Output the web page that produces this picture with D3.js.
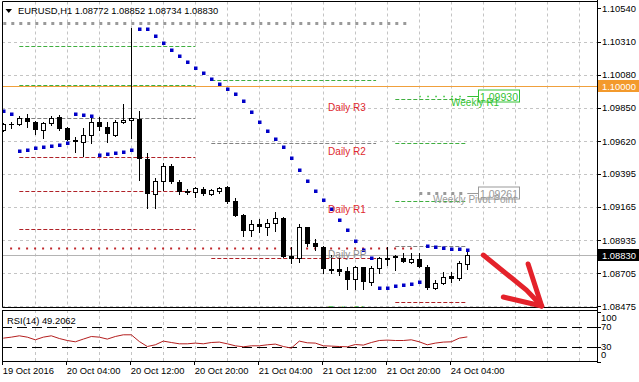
<!DOCTYPE html>
<html>
<head>
<meta charset="utf-8">
<script src="https://cdn.jsdelivr.net/npm/d3@7"></script>
<style>
    body { margin: 0; background: #fff; }
    svg { display: block; font-family: "Liberation Sans", Arial, sans-serif; }
</style>
</head>
<body>
<svg id="chart" width="639" height="382"></svg>
<script>
"use strict";

//EURUSD H1 bars, 19 Oct 20:00 .. 24 Oct 06:00 (index 0..58)
var opens = [1.09697, 1.09736, 1.09736, 1.09782, 1.09750, 1.09697, 1.09743, 1.09787, 1.09709, 1.09628,
    1.09612, 1.09662, 1.09750, 1.09720, 1.09662, 1.09750, 1.09764, 1.09773, 1.09496, 1.09251,
    1.09344, 1.09448, 1.09335, 1.09276, 1.09269, 1.09286, 1.09251, 1.09276, 1.09304, 1.09205,
    1.09108, 1.09004, 1.09046, 1.09027, 1.09055, 1.09085, 1.08824, 1.08808, 1.09023, 1.08912,
    1.08888, 1.08732, 1.08734, 1.08720, 1.08663, 1.08746, 1.08646, 1.08739, 1.08808, 1.08824,
    1.08808, 1.08784, 1.08803, 1.08750, 1.08600, 1.08635, 1.08685, 1.08669, 1.08772];
var highs = [1.09745, 1.09750, 1.09796, 1.09806, 1.09759, 1.09750, 1.09796, 1.09801, 1.09720, 1.09650,
    1.09713, 1.09789, 1.09789, 1.09754, 1.09768, 1.09875, 1.10404, 1.09829, 1.09535, 1.09366,
    1.09466, 1.09459, 1.09351, 1.09286, 1.09304, 1.09302, 1.09290, 1.09304, 1.09309, 1.09224,
    1.09115, 1.09073, 1.09078, 1.09078, 1.09131, 1.09092, 1.08888, 1.09046, 1.09027, 1.08940,
    1.08893, 1.08831, 1.08808, 1.08746, 1.08755, 1.08750, 1.08755, 1.08819, 1.08888, 1.08831,
    1.08843, 1.08847, 1.08843, 1.08762, 1.08658, 1.08715, 1.08715, 1.08791, 1.08852];
var lows = [1.09690, 1.09713, 1.09732, 1.09720, 1.09667, 1.09644, 1.09732, 1.09697, 1.09625, 1.09542,
    1.09519, 1.09605, 1.09697, 1.09612, 1.09659, 1.09743, 1.09639, 1.09351, 1.09159, 1.09159,
    1.09281, 1.09330, 1.09251, 1.09251, 1.09235, 1.09246, 1.09249, 1.09258, 1.09189, 1.09101,
    1.08962, 1.08962, 1.08992, 1.08969, 1.08999, 1.08817, 1.08778, 1.08784, 1.08893, 1.08866,
    1.08708, 1.08704, 1.08692, 1.08593, 1.08597, 1.08593, 1.08623, 1.08708, 1.08762, 1.08727,
    1.08782, 1.08773, 1.08748, 1.08597, 1.08597, 1.08632, 1.08646, 1.08658, 1.08734];
var closes = [1.09736, 1.09732, 1.09782, 1.09750, 1.09697, 1.09743, 1.09782, 1.09704, 1.09628, 1.09612,
    1.09662, 1.09750, 1.09720, 1.09667, 1.09754, 1.09768, 1.09782, 1.09496, 1.09251, 1.09344,
    1.09448, 1.09335, 1.09265, 1.09263, 1.09293, 1.09251, 1.09281, 1.09293, 1.09200, 1.09103,
    1.08999, 1.09046, 1.09027, 1.09055, 1.09085, 1.08819, 1.08805, 1.09023, 1.08907, 1.08888,
    1.08732, 1.08734, 1.08715, 1.08658, 1.08746, 1.08646, 1.08739, 1.08808, 1.08810, 1.08808,
    1.08784, 1.08801, 1.08750, 1.08600, 1.08635, 1.08681, 1.08663, 1.08773, 1.08830];

//Parabolic SAR
var sar = [1.09831, 1.09808, 1.09551, 1.09558, 1.09570, 1.09577, 1.09586, 1.09593, 1.09605, 1.09806,
    1.09799, 1.09792, 1.09522, 1.09531, 1.09538, 1.09544, 1.09558, 1.10397, 1.10397, 1.10350,
    1.10298, 1.10251, 1.10212, 1.10168, 1.10124, 1.10094, 1.10050, 1.10016, 1.09981, 1.09946,
    1.09900, 1.09822, 1.09751, 1.09690, 1.09635, 1.09581, 1.09501, 1.09420, 1.09344, 1.09274,
    1.09212, 1.09148, 1.09073, 1.09004, 1.08926, 1.08866, 1.08808, 1.08600, 1.08600, 1.08616,
    1.08625, 1.08632, 1.08644, 1.08893, 1.08888, 1.08879, 1.08872, 1.08872, 1.08866];

//RSI(14)
var rsi = [46.7, 48.7, 51.4, 48.7, 43.4, 48.7, 51.4, 46.0, 42.0, 39.4,
    44.8, 50.0, 48.7, 44.8, 50.0, 53.4, 53.4, 40.0, 30.0, 33.4,
    40.8, 38.0, 35.4, 35.4, 36.8, 35.4, 38.0, 38.8, 35.4, 31.4,
    29.4, 31.4, 31.4, 33.4, 34.8, 30.0, 26.8, 40.8, 37.4, 36.8,
    31.4, 30.8, 30.0, 29.4, 34.0, 32.8, 38.0, 42.0, 42.8, 42.0,
    42.0, 43.4, 39.4, 33.4, 36.8, 38.8, 39.4, 46.7, 49.2];

var priceTicks = [1.10540, 1.10310, 1.10080, 1.09850, 1.09620, 1.09395, 1.09165, 1.08935, 1.08705, 1.08475];
var rsiTicks = [100, 70, 30, 0];
var rsiLevels = [70, 30];
var timeTickIndex = [0, 8, 16, 24, 32, 40, 48, 56];
var timeTickLabels = ["19 Oct 2016", "20 Oct 04:00", "20 Oct 12:00", "20 Oct 20:00",
    "21 Oct 04:00", "21 Oct 12:00", "21 Oct 20:00", "24 Oct 04:00"];

//Daily pivot levels (three sessions)
var dayStart = [2, 26, 49];
var dayEnd = [24, 46.6, 58];
var dayResist = [[1.10279, 1.10009], [1.10043], [1.09912, 1.09607, 1.09205]];
var dayPivot = [1.09780, 1.09605, 1.08895];
var daySupport = [[1.09510, 1.09276, 1.09011], [1.08808], [1.08503]];
var dayLabels = ["Daily R3", "Daily R2", "Daily R1", "Daily PP", "Daily S1"];
var dayLabelPrices = [1.09912, 1.09607, 1.09205, 1.08895, 1.08503];
var dayLabelColors = ["#e0282e", "#e0282e", "#e0282e", "#8c8c8c", "#4cbb4c"];

//Weekly levels: previous week and current week
var prevWeekLevels = [1.10438, 1.08881];
var weekLevels = [1.09930, 1.09261];
var weekNames = ["Weekly R1", "Weekly Pivot Point"];

var lastPrice = 1.08830;
var roundLevel = 1.10000;
var arrowShaft = [[60.0, 1.08831], [65.4, 1.08588], [67.3, 1.08478]];
var arrowHead = [[62.5, 1.08540], [67.3, 1.08478], [65.6, 1.08769]];

//Layout
var left = 2, right = 597, mainTop = 1.5, mainBottom = 307, rsiTop = 310, rsiBottom = 361;
var axisFont = 9.4;

var svg = d3.select("#chart");

var x = d3.scaleLinear().domain([0, 74]).range([3.3, 595.3]);
var y = d3.scaleLinear().domain([1.08471, 1.10591]).range([mainBottom, 1]);
var yRsi = d3.scaleLinear().domain([0, 100]).range([361.5, 311.5]);

function px(v) { return Math.round(v) + 0.5; }

svg.append("clipPath").attr("id", "mainClip")
    .append("rect").attr("x", left).attr("y", mainTop).attr("width", right - left).attr("height", mainBottom - mainTop);

var main = svg.append("g").attr("clip-path", "url(#mainClip)");

//Grid
var gridIdx = d3.range(4, 73, 4);
main.selectAll(".vgrid").data(gridIdx).enter().append("line")
    .attr("x1", function (d) { return px(x(d)); }).attr("x2", function (d) { return px(x(d)); })
    .attr("y1", mainTop).attr("y2", mainBottom)
    .attr("stroke", "#c4c4c4").attr("stroke-dasharray", "3,3");
main.selectAll(".hgrid").data(priceTicks.slice(1)).enter().append("line")
    .attr("x1", left).attr("x2", right)
    .attr("y1", function (d) { return px(y(d)); }).attr("y2", function (d) { return px(y(d)); })
    .attr("stroke", "#c4c4c4").attr("stroke-dasharray", "3,3");
svg.selectAll(".rgrid").data(gridIdx).enter().append("line")
    .attr("x1", function (d) { return px(x(d)); }).attr("x2", function (d) { return px(x(d)); })
    .attr("y1", rsiTop).attr("y2", rsiBottom)
    .attr("stroke", "#c4c4c4").attr("stroke-dasharray", "3,3");

//Daily pivot segments
function daySeg(price, d, color) {
    main.append("line")
        .attr("x1", x(dayStart[d])).attr("x2", x(dayEnd[d]))
        .attr("y1", px(y(price))).attr("y2", px(y(price)))
        .attr("stroke", color).attr("stroke-dasharray", "4,2");
}
dayStart.forEach(function (s, d) {
    dayResist[d].forEach(function (p) { daySeg(p, d, "#3fae3f"); });
    daySeg(dayPivot[d], d, "#808080");
    daySupport[d].forEach(function (p) { daySeg(p, d, "#b02228"); });
});

//Previous week levels (run off the left edge)
main.append("line")
    .attr("x1", x(-1)).attr("x2", x(51))
    .attr("y1", px(y(prevWeekLevels[0]))).attr("y2", px(y(prevWeekLevels[0])))
    .attr("stroke", "#9a9a9a").attr("stroke-width", 3).attr("stroke-dasharray", "3,5");
main.append("line")
    .attr("x1", x(0.85)).attr("x2", x(51.1))
    .attr("y1", px(y(prevWeekLevels[1]))).attr("y2", px(y(prevWeekLevels[1])))
    .attr("stroke", "#c0282d").attr("stroke-width", 2).attr("stroke-dasharray", "2,6");

//Round number and last price lines
main.append("line")
    .attr("x1", left).attr("x2", right)
    .attr("y1", px(y(roundLevel))).attr("y2", px(y(roundLevel)))
    .attr("stroke", "#f0a03c");
main.append("line")
    .attr("x1", left).attr("x2", right)
    .attr("y1", px(y(lastPrice))).attr("y2", px(y(lastPrice)))
    .attr("stroke", "#b4b4b4");

//Candles
var bars = d3.range(opens.length);
var cg = main.selectAll(".candle").data(bars).enter().append("g");
cg.append("line")
    .attr("x1", function (i) { return px(x(i)); }).attr("x2", function (i) { return px(x(i)); })
    .attr("y1", function (i) { return Math.round(y(highs[i])); })
    .attr("y2", function (i) { return Math.round(y(lows[i])) + 1; })
    .attr("stroke", "#000");
cg.append("rect")
    .attr("x", function (i) { return closes[i] >= opens[i] ? px(x(i)) - 2 : px(x(i)) - 2.5; })
    .attr("width", function (i) { return closes[i] >= opens[i] ? 4 : 5; })
    .attr("y", function (i) {
        var t = Math.round(y(Math.max(opens[i], closes[i])));
        return closes[i] >= opens[i] ? t + 0.5 : t;
    })
    .attr("height", function (i) {
        var h = Math.round(y(Math.min(opens[i], closes[i]))) - Math.round(y(Math.max(opens[i], closes[i])));
        return Math.max(h, 1);
    })
    .attr("fill", function (i) { return closes[i] >= opens[i] ? "#fff" : "#000"; })
    .attr("stroke", function (i) { return closes[i] >= opens[i] ? "#000" : "none"; });

//SAR dots
main.selectAll(".sar").data(bars).enter().append("rect")
    .attr("x", function (i) { return Math.round(x(i)) - 1; })
    .attr("y", function (i) { return Math.round(y(sar[i])) - 1.5; })
    .attr("width", 3.5).attr("height", 3.5)
    .attr("fill", "#0000c8");

//Current week levels with price boxes
var weekColors = ["#34c234", "#9a9a9a"];
weekLevels.forEach(function (p, k) {
    var yy = px(y(p));
    main.append("line")
        .attr("x1", x(52)).attr("x2", x(58))
        .attr("y1", yy).attr("y2", yy)
        .attr("stroke", weekColors[k])
        .attr("stroke-width", k == 0 ? 1.5 : 3)
        .attr("stroke-dasharray", k == 0 ? "1.5,6.5" : "3,5");
    main.append("line")
        .attr("x1", x(58)).attr("x2", 478)
        .attr("y1", yy).attr("y2", yy)
        .attr("stroke", weekColors[k]);
    main.append("rect")
        .attr("x", 478.5).attr("y", yy - 6.5).attr("width", 41).attr("height", 12)
        .attr("fill", "#fff").attr("stroke", weekColors[k]);
    main.append("text")
        .attr("x", 499).attr("y", yy + 4)
        .attr("text-anchor", "middle").attr("font-size", 10.5)
        .attr("fill", weekColors[k])
        .text(p.toFixed(5));
});
main.append("text").attr("x", 451).attr("y", px(y(weekLevels[0])) + 9.5)
    .attr("font-size", 10).attr("fill", "#34c234").text(weekNames[0]);
main.append("text").attr("x", 433).attr("y", px(y(weekLevels[1])) + 9.5)
    .attr("font-size", 10).attr("fill", "#9a9a9a").text(weekNames[1]);

//Daily labels
dayLabels.forEach(function (t, k) {
    main.append("text")
        .attr("x", x(40.6)).attr("y", px(y(dayLabelPrices[k])) + 11)
        .attr("font-size", 10).attr("fill", dayLabelColors[k])
        .text(t);
});

//Title
svg.append("path").attr("d", "M5.5,9 L12,9 L8.75,13 Z").attr("fill", "#000");
svg.append("text").attr("x", 18).attr("y", 13.5).attr("font-size", axisFont).attr("fill", "#000")
    .text("EURUSD,H1 1.08772 1.08852 1.08734 1.08830");

//RSI panel
svg.selectAll(".rlev").data(rsiLevels).enter().append("line")
    .attr("x1", left).attr("x2", right)
    .attr("y1", function (d) { return px(yRsi(d)); }).attr("y2", function (d) { return px(yRsi(d)); })
    .attr("stroke", "#000").attr("stroke-dasharray", "10,5");
svg.append("path")
    .datum(bars)
    .attr("d", d3.line().x(function (i) { return x(i); }).y(function (i) { return yRsi(rsi[i]); }))
    .attr("fill", "none").attr("stroke", "#b41e1e").attr("stroke-width", 1);
svg.append("text").attr("x", 7).attr("y", 323.5).attr("font-size", axisFont).attr("fill", "#000")
    .text("RSI(14) 49.2062");

//Frames
svg.append("path")
    .attr("d", "M" + (left + 0.5) + "," + mainTop + "H" + (right + 0.5) + "V" + (mainBottom + 0.5) + "H" + (left + 0.5) + "Z")
    .attr("fill", "none").attr("stroke", "#000");
svg.append("rect")
    .attr("x", left + 0.5).attr("y", rsiTop + 0.5).attr("width", right - left).attr("height", rsiBottom - rsiTop)
    .attr("fill", "none").attr("stroke", "#000");
svg.append("line").attr("x1", right + 0.5).attr("x2", right + 0.5).attr("y1", 0).attr("y2", rsiBottom + 1)
    .attr("stroke", "#000");

//Price axis
var pa = svg.selectAll(".ptick").data(priceTicks).enter().append("g");
pa.append("line")
    .attr("x1", right).attr("x2", right + 4)
    .attr("y1", function (d) { return px(y(d)); }).attr("y2", function (d) { return px(y(d)); })
    .attr("stroke", "#000");
pa.append("text")
    .attr("x", 602).attr("y", function (d) { return y(d) + 3.5; })
    .attr("font-size", axisFont).attr("fill", "#000")
    .text(function (d) { return d.toFixed(5); });

//Price flags
function flag(price, bg) {
    var yy = Math.round(y(price));
    svg.append("rect").attr("x", 598).attr("y", yy - 6).attr("width", 41).attr("height", 12).attr("fill", bg);
    svg.append("text").attr("x", 602).attr("y", yy + 3.5)
        .attr("font-size", axisFont).attr("fill", "#fff").text(price.toFixed(5));
}
flag(roundLevel, "#f39a2c");
flag(lastPrice, "#000");

//RSI axis - the end labels are pushed inside the panel like the terminal does
var ra = svg.selectAll(".rtick").data(rsiTicks).enter().append("g");
ra.append("line")
    .attr("x1", right).attr("x2", right + 4)
    .attr("y1", function (d) { return px(yRsi(d)); }).attr("y2", function (d) { return px(yRsi(d)); })
    .attr("stroke", "#000");
ra.append("text")
    .attr("x", 601)
    .attr("y", function (d) {
        var c = Math.min(Math.max(yRsi(d), rsiTop + 7), rsiBottom - 7);
        return c + 3.5;
    })
    .attr("font-size", axisFont).attr("fill", "#000")
    .text(function (d) { return d; });

//Time axis
var ta = svg.selectAll(".ttick").data(timeTickIndex).enter().append("g");
ta.append("line")
    .attr("x1", function (d) { return px(x(d)) - 1; }).attr("x2", function (d) { return px(x(d)) - 1; })
    .attr("y1", rsiBottom).attr("y2", rsiBottom + 4)
    .attr("stroke", "#000");
ta.append("text")
    .attr("x", function (d) { return x(d) - 0.5; }).attr("y", 374)
    .attr("font-size", axisFont).attr("fill", "#000")
    .text(function (d, k) { return timeTickLabels[k]; });

//Hand drawn arrow
var arrowLine = d3.line().x(function (d) { return x(d[0]); }).y(function (d) { return y(d[1]); });
[arrowShaft, arrowHead].forEach(function (pts) {
    svg.append("path").attr("d", arrowLine(pts))
        .attr("fill", "none").attr("stroke", "#e4222b").attr("stroke-width", 5)
        .attr("stroke-linecap", "round").attr("stroke-linejoin", "round");
});
</script>
</body>
</html>
